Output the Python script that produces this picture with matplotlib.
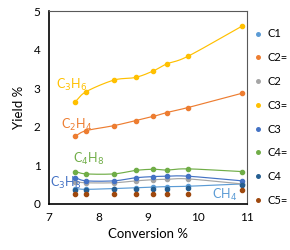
import matplotlib
matplotlib.use("Agg")
import matplotlib.pyplot as plt
import numpy as np

plt.rcParams['font.family'] = ['Lato', 'DejaVu Sans']

# data
conversion = [7.53, 7.75, 8.31, 8.75, 9.11, 9.38, 9.81, 10.9]
series_names = ['C1', 'C2=', 'C2', 'C3=', 'C3', 'C4=', 'C4', 'C5=']
c1 = [0.40, 0.38, 0.40, 0.42, 0.44, 0.45, 0.46, 0.52]
c2e = [1.76, 1.90, 2.03, 2.16, 2.27, 2.37, 2.50, 2.87]
c2 = [0.58, 0.55, 0.55, 0.60, 0.63, 0.64, 0.65, 0.52]
c3e = [2.65, 2.91, 3.21, 3.28, 3.45, 3.63, 3.83, 4.61]
c3 = [0.68, 0.60, 0.60, 0.68, 0.71, 0.72, 0.72, 0.60]
c4e = [0.84, 0.78, 0.78, 0.87, 0.90, 0.88, 0.91, 0.84]
c4 = [0.36, 0.36, 0.38, 0.38, 0.38, 0.40, 0.41, 0.48]
c5e = [0.27, 0.27, 0.27, 0.27, 0.27, 0.26, 0.26, 0.36]

colors = ['#5B9BD5', '#ED7D31', '#A5A5A5', '#FFC000',
          '#4472C4', '#70AD47', '#255E91', '#9E480E']
has_line = [True, True, True, True, True, True, False, False]


def smooth(x, y, n=20):
    # catmull-rom curve through the points, like Excel smoothed lines
    x = np.asarray(x); y = np.asarray(y)
    px = np.concatenate([[2*x[0]-x[1]], x, [2*x[-1]-x[-2]]])
    py = np.concatenate([[2*y[0]-y[1]], y, [2*y[-1]-y[-2]]])
    xs, ys = [], []
    t = np.linspace(0, 1, n)
    for i in range(1, len(px)-2):
        for p, out in ((px, xs), (py, ys)):
            p0, p1, p2, p3 = p[i-1], p[i], p[i+1], p[i+2]
            out.extend(0.5*((2*p1) + (-p0+p2)*t + (2*p0-5*p1+4*p2-p3)*t**2
                            + (-p0+3*p1-3*p2+p3)*t**3))
    return xs, ys


fig = plt.figure(figsize=(2.9, 2.5), dpi=100)
ax = fig.add_axes([0.169, 0.184, 0.683, 0.772])

data = [c1, c2e, c2, c3e, c3, c4e, c4, c5e]
for name, vals, col, ln in zip(series_names, data, colors, has_line):
    if ln:
        sx, sy = smooth(conversion, vals)
        ax.plot(sx, sy, color=col, lw=0.85, zorder=2)
    ax.plot(conversion, vals, 'o', color=col, ms=3.0, label=name, zorder=3)

ax.set_xlim(7, 11)
ax.set_ylim(0, 5)
ax.set_xticks([7, 8, 9, 10, 11])
ax.set_yticks([0, 1, 2, 3, 4, 5])
ax.tick_params(length=0, labelsize=8.5, pad=6)
ax.set_xlabel('Conversion %', fontsize=9.5, labelpad=3)
ax.set_ylabel('Yield %', fontsize=9.5, labelpad=6)
for s in ['left', 'bottom']:
    ax.spines[s].set_color('black')
    ax.spines[s].set_linewidth(1.2)
for s in ['top', 'right']:
    ax.spines[s].set_color('#595959')
    ax.spines[s].set_linewidth(0.8)

ax.text(7.15, 3.08, 'C$_3$H$_6$', color='#FFC000', fontsize=9, va='center')
ax.text(7.25, 2.05, 'C$_2$H$_4$', color='#ED7D31', fontsize=9, va='center')
ax.text(7.48, 1.17, 'C$_4$H$_8$', color='#70AD47', fontsize=9, va='center')
ax.text(7.03, 0.55, 'C$_3$H$_8$', color='#4472C4', fontsize=9, va='center')
ax.text(10.3, 0.23, 'CH$_4$', color='#5B9BD5', fontsize=9, va='center')

ax.legend(loc='upper left', bbox_to_anchor=(1.0, 0.95), frameon=False,
          fontsize=8, handlelength=0.6, handletextpad=0.5, labelspacing=1.15,
          borderaxespad=0.3, markerscale=0.85)

fig.savefig('out.png', dpi=100)
